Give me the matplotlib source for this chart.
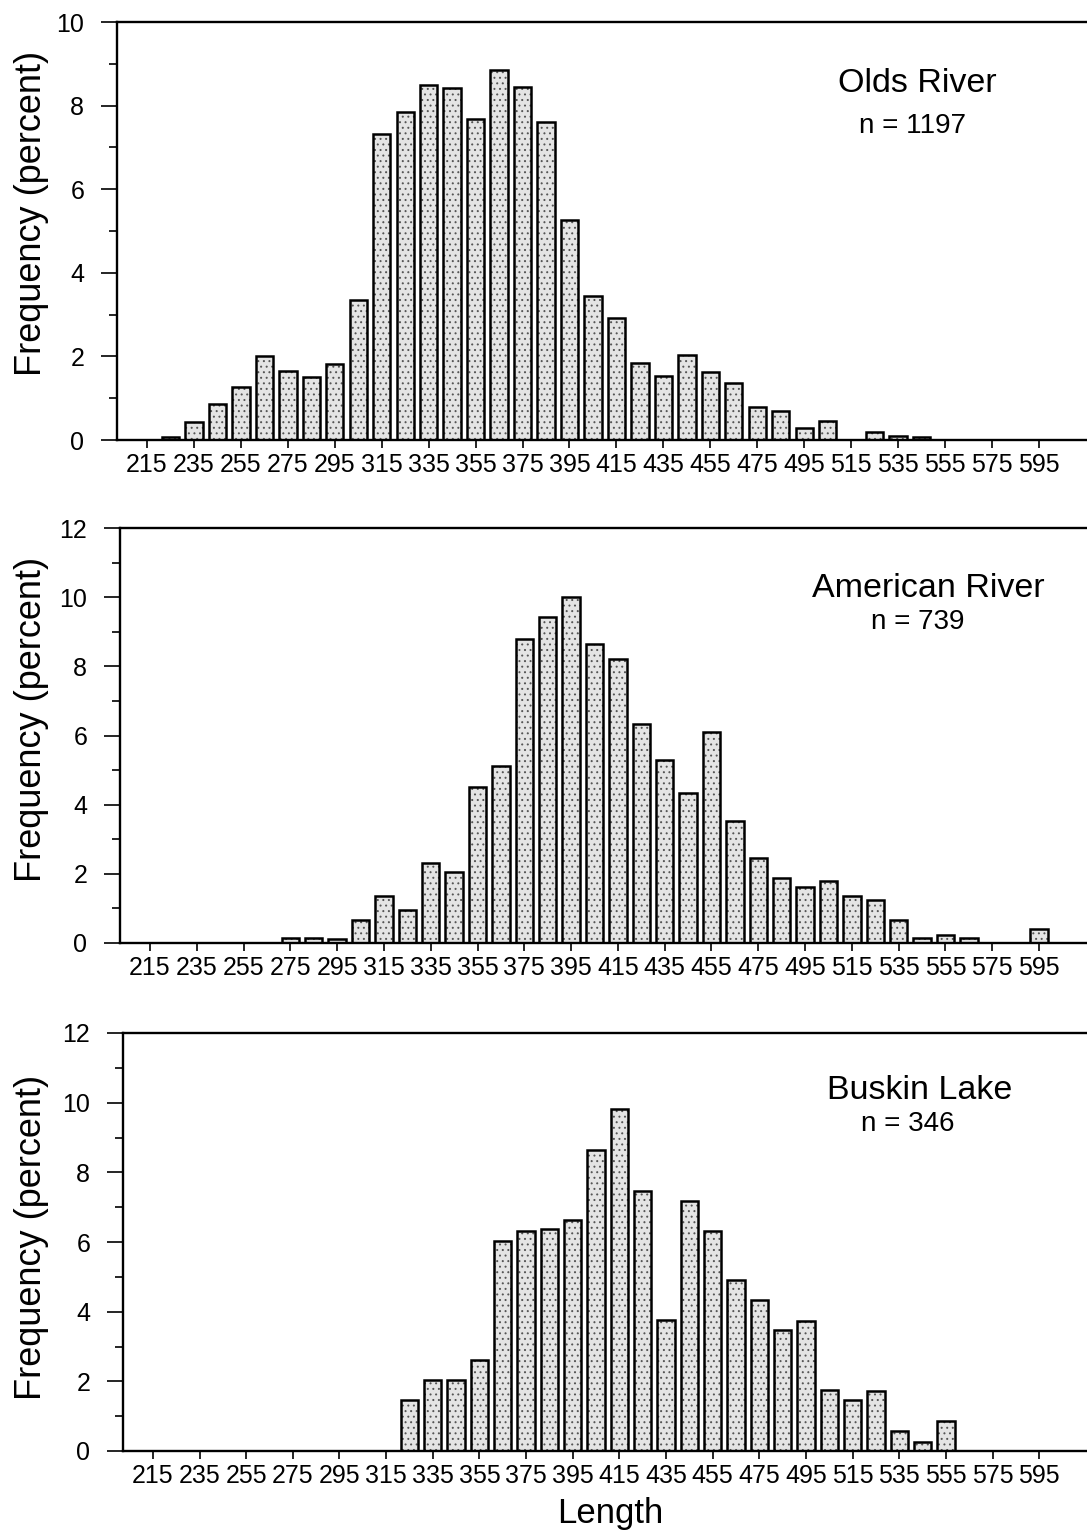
"""Length-frequency histograms for three sampling sites."""

import matplotlib.pyplot as plt
from matplotlib.ticker import MultipleLocator

plt.rcParams["font.family"] = ["Liberation Sans", "DejaVu Sans"]
plt.rcParams["hatch.linewidth"] = 0.7

# length classes (bin centres, 10 mm wide)
length_bins = [225, 235, 245, 255, 265, 275, 285, 295, 305, 315,
               325, 335, 345, 355, 365, 375, 385, 395, 405, 415,
               425, 435, 445, 455, 465, 475, 485, 495, 505, 515,
               525, 535, 545, 555, 565, 575, 585, 595]
tick_labels = [215, 235, 255, 275, 295, 315, 335, 355, 375, 395,
               415, 435, 455, 475, 495, 515, 535, 555, 575, 595]

# percent of fish in each length class
olds_river = [0.08, 0.43, 0.85, 1.26, 2.01, 1.66, 1.50, 1.83, 3.34, 7.33,
              7.85, 8.50, 8.43, 7.69, 8.85, 8.45, 7.61, 5.26, 3.44, 2.93,
              1.85, 1.53, 2.03, 1.62, 1.36, 0.78, 0.69, 0.28, 0.45, 0.0,
              0.20, 0.10, 0.08, 0.0, 0.0, 0.0, 0.0, 0.0]
american_river = [0.0, 0.0, 0.0, 0.0, 0.0, 0.14, 0.14, 0.13, 0.67, 1.35,
                  0.95, 2.30, 2.04, 4.50, 5.12, 8.79, 9.44, 10.0, 8.64, 8.21,
                  6.34, 5.30, 4.34, 6.09, 3.52, 2.45, 1.89, 1.62, 1.80, 1.36,
                  1.25, 0.67, 0.14, 0.24, 0.14, 0.0, 0.0, 0.41]
buskin_lake = [0.0, 0.0, 0.0, 0.0, 0.0, 0.0, 0.0, 0.0, 0.0, 0.0,
               1.47, 2.04, 2.04, 2.60, 6.04, 6.33, 6.36, 6.62, 8.65, 9.82,
               7.47, 3.76, 7.19, 6.33, 4.91, 4.34, 3.48, 3.74, 1.75, 1.47,
               1.73, 0.57, 0.26, 0.87, 0.0, 0.0, 0.0, 0.0]

sites = ["Olds River", "American River", "Buskin Lake"]
sample_sizes = [1197, 739, 346]
series = [olds_river, american_river, buskin_lake]
y_max = [10, 12, 12]

W, H = 1087, 1531
fig = plt.figure(figsize=(W / 100, H / 100), dpi=100)

# panel boxes in pixels: left, top, bottom
boxes = [(117, 22, 440), (120, 528, 943), (123, 1033, 1451)]
# site name / n placement (axes fraction, baseline)
name_pos = [(0.825, 0.833), (0.836, 0.834), (0.826, 0.842)]
n_pos = [(0.820, 0.734), (0.825, 0.757), (0.814, 0.766)]
ylabel_y = [213, 719, 1237]

for i, (left, top, bottom) in enumerate(boxes):
    ax = fig.add_axes([left / W, 1 - bottom / H, (W - left) / W, (bottom - top) / H])
    xs = [x for x, v in zip(length_bins, series[i]) if v > 0]
    hs = [v for v in series[i] if v > 0]

    # stippled fill, then the black outline on top
    ax.bar(xs, hs, width=7.4, color="#e4e4e4", edgecolor="#555555",
           linewidth=0, hatch="...", zorder=2)
    ax.bar(xs, hs, width=7.4, fill=False, edgecolor="black",
           linewidth=1.8, zorder=3)

    ax.set_xlim(202.2, 615.5)
    ax.set_ylim(0, y_max[i])
    ax.set_xticks(tick_labels)
    ax.set_xticklabels([str(t) for t in tick_labels])
    ax.yaxis.set_major_locator(MultipleLocator(2))
    ax.yaxis.set_minor_locator(MultipleLocator(1))

    for side in ("left", "bottom", "top"):
        ax.spines[side].set_linewidth(1.7)
    ax.spines["right"].set_visible(False)

    ax.tick_params(axis="x", direction="out", length=6, width=1.2,
                   labelsize=18, pad=3.2)
    ax.tick_params(axis="y", which="major", direction="out", length=11.5,
                   width=1.2, labelsize=18, pad=12)
    ax.tick_params(axis="y", which="minor", direction="out", length=5.8,
                   width=1.2)

    ax.text(*name_pos[i], sites[i], transform=ax.transAxes, ha="center",
            va="baseline", fontsize=24.5)
    ax.text(*n_pos[i], f"n = {sample_sizes[i]}", transform=ax.transAxes,
            ha="center", va="baseline", fontsize=20)

    fig.text(32 / W, 1 - ylabel_y[i] / H, "Frequency (percent)", rotation=90,
             ha="center", va="center", fontsize=26)

fig.text(610 / W, 1 - 1523 / H, "Length", ha="center", va="baseline",
         fontsize=25)

fig.savefig("out.png", dpi=100)
